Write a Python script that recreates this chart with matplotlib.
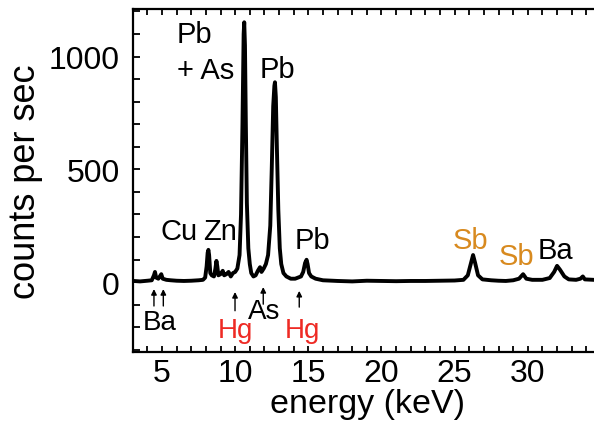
import matplotlib
matplotlib.use("Agg")
import matplotlib.pyplot as plt
from matplotlib.ticker import MultipleLocator, FixedLocator

plt.rcParams['font.family'] = ['Liberation Sans', 'DejaVu Sans']

# spectrum (energy in keV, counts per sec)
energy = [3.05, 3.5, 4.0, 4.3, 4.45, 4.52, 4.6, 4.75, 4.85, 4.95, 5.05, 5.3, 5.6,
          6.0, 6.5, 7.0, 7.5, 7.8, 7.95, 8.05, 8.12, 8.17, 8.22, 8.3, 8.4, 8.55,
          8.65, 8.72, 8.78, 8.85, 9.0, 9.15, 9.25, 9.4, 9.55, 9.7, 9.85, 10.0,
          10.15, 10.3, 10.4, 10.5, 10.58, 10.62, 10.67, 10.73, 10.8, 10.9, 11.0,
          11.1, 11.25, 11.4, 11.55, 11.7, 11.8, 11.95, 12.1, 12.25, 12.4, 12.5,
          12.6, 12.68, 12.72, 12.78, 12.85, 12.95, 13.05, 13.15, 13.3, 13.5, 13.8,
          14.1, 14.3, 14.5, 14.65, 14.78, 14.88, 14.95, 15.05, 15.2, 15.5, 16.0,
          17.0, 18.0, 19.0, 20.0, 21.0, 22.0, 23.0, 24.0, 25.0, 25.6, 25.9, 26.1,
          26.26, 26.4, 26.6, 26.9, 27.5, 28.0, 28.5, 29.0, 29.4, 29.68, 29.9, 30.3,
          31.0, 31.5, 31.8, 32.0, 32.2, 32.5, 32.8, 33.3, 33.6, 33.76, 33.9, 34.5, 35.0]
counts = [5, 3, 6, 8, 30, 45, 20, 15, 25, 35, 15, 10, 8,
          6, 5, 6, 8, 10, 20, 70, 130, 143, 120, 40, 30, 25,
          60, 94, 70, 30, 35, 50, 30, 35, 45, 25, 40, 45,
          60, 120, 300, 700, 1100, 1152, 1050, 700, 350, 150, 80,
          40, 25, 30, 50, 66, 45, 60, 80, 120, 250, 500,
          780, 870, 886, 820, 600, 320, 150, 80, 40, 25, 15,
          15, 20, 25, 45, 85, 99, 80, 40, 25, 15, 8,
          5, 3, 6, 5, 4, 5, 5, 6, 7, 10, 30, 80,
          120, 85, 30, 12, 8, 6, 5, 8, 15, 35, 15, 10,
          10, 18, 45, 72, 55, 25, 12, 10, 15, 25, 12, 10, 8]

# peak labels above the spectrum
peak_labels = ['Pb', '+ As', 'Pb', 'Cu', 'Zn', 'Pb', 'Sb', 'Sb', 'Ba']
peak_x = [7.25, 8.0, 12.86, 6.2, 8.96, 15.28, 26.1, 29.2, 31.9]
peak_y = [1100, 940, 945, 226, 226, 186, 186, 115, 142]
peak_col = ['black', 'black', 'black', 'black', 'black', 'black',
            '#d88a1f', '#d88a1f', 'black']

# labels below the baseline, pointed at with arrows
low_labels = ['Ba', 'Hg', 'As', 'Hg']
low_x = [4.86, 10.05, 12.0, 14.6]
low_y = [-177, -214, -126, -214]
low_col = ['black', '#ee2a24', 'black', '#ee2a24']
arrow_x = [4.45, 5.09, 9.99, 11.92, 14.38]
arrow_tip = [-31, -31, -44, -22, -39]
arrow_tail = [-106, -106, -127, -98, -111]

fig = plt.figure(figsize=(5.94, 4.27), dpi=100)
ax = fig.add_axes([0.2247, 0.1733, 0.787, 0.8044])

ax.plot(energy, counts, color='black', lw=2.8, solid_joinstyle='round')

for t, x, y, c in zip(peak_labels, peak_x, peak_y, peak_col):
    ax.text(x, y, t, color=c, fontsize=21, ha='center', va='center')
for t, x, y, c in zip(low_labels, low_x, low_y, low_col):
    ax.text(x, y, t, color=c, fontsize=20, ha='center', va='center')
for x, y1, y0 in zip(arrow_x, arrow_tip, arrow_tail):
    ax.annotate('', xy=(x, y1), xytext=(x, y0),
                arrowprops=dict(arrowstyle='-|>', color='black', lw=1.0,
                                mutation_scale=8, shrinkA=0, shrinkB=0))

ax.set_xlim(3.05, 35)
ax.set_ylim(-310, 1213)
ax.xaxis.set_major_locator(FixedLocator([5, 10, 15, 20, 25, 30]))
ax.xaxis.set_minor_locator(MultipleLocator(1))
ax.yaxis.set_major_locator(FixedLocator([0, 500, 1000]))
ax.yaxis.set_minor_locator(MultipleLocator(100))

ax.tick_params(axis='both', which='both', direction='in', width=1.3,
               top=True, right=False, labelsize=23, colors='black')
ax.tick_params(axis='x', which='both', length=4, pad=4)
ax.tick_params(axis='y', which='both', length=5, pad=10)
for s in ax.spines.values():
    s.set_linewidth(1.6)
ax.spines['right'].set_visible(False)

ax.set_xlabel('energy (keV)', fontsize=24.5, labelpad=0)
ax.set_ylabel('counts per sec', fontsize=26, labelpad=4)

fig.savefig('out.png', dpi=100)
